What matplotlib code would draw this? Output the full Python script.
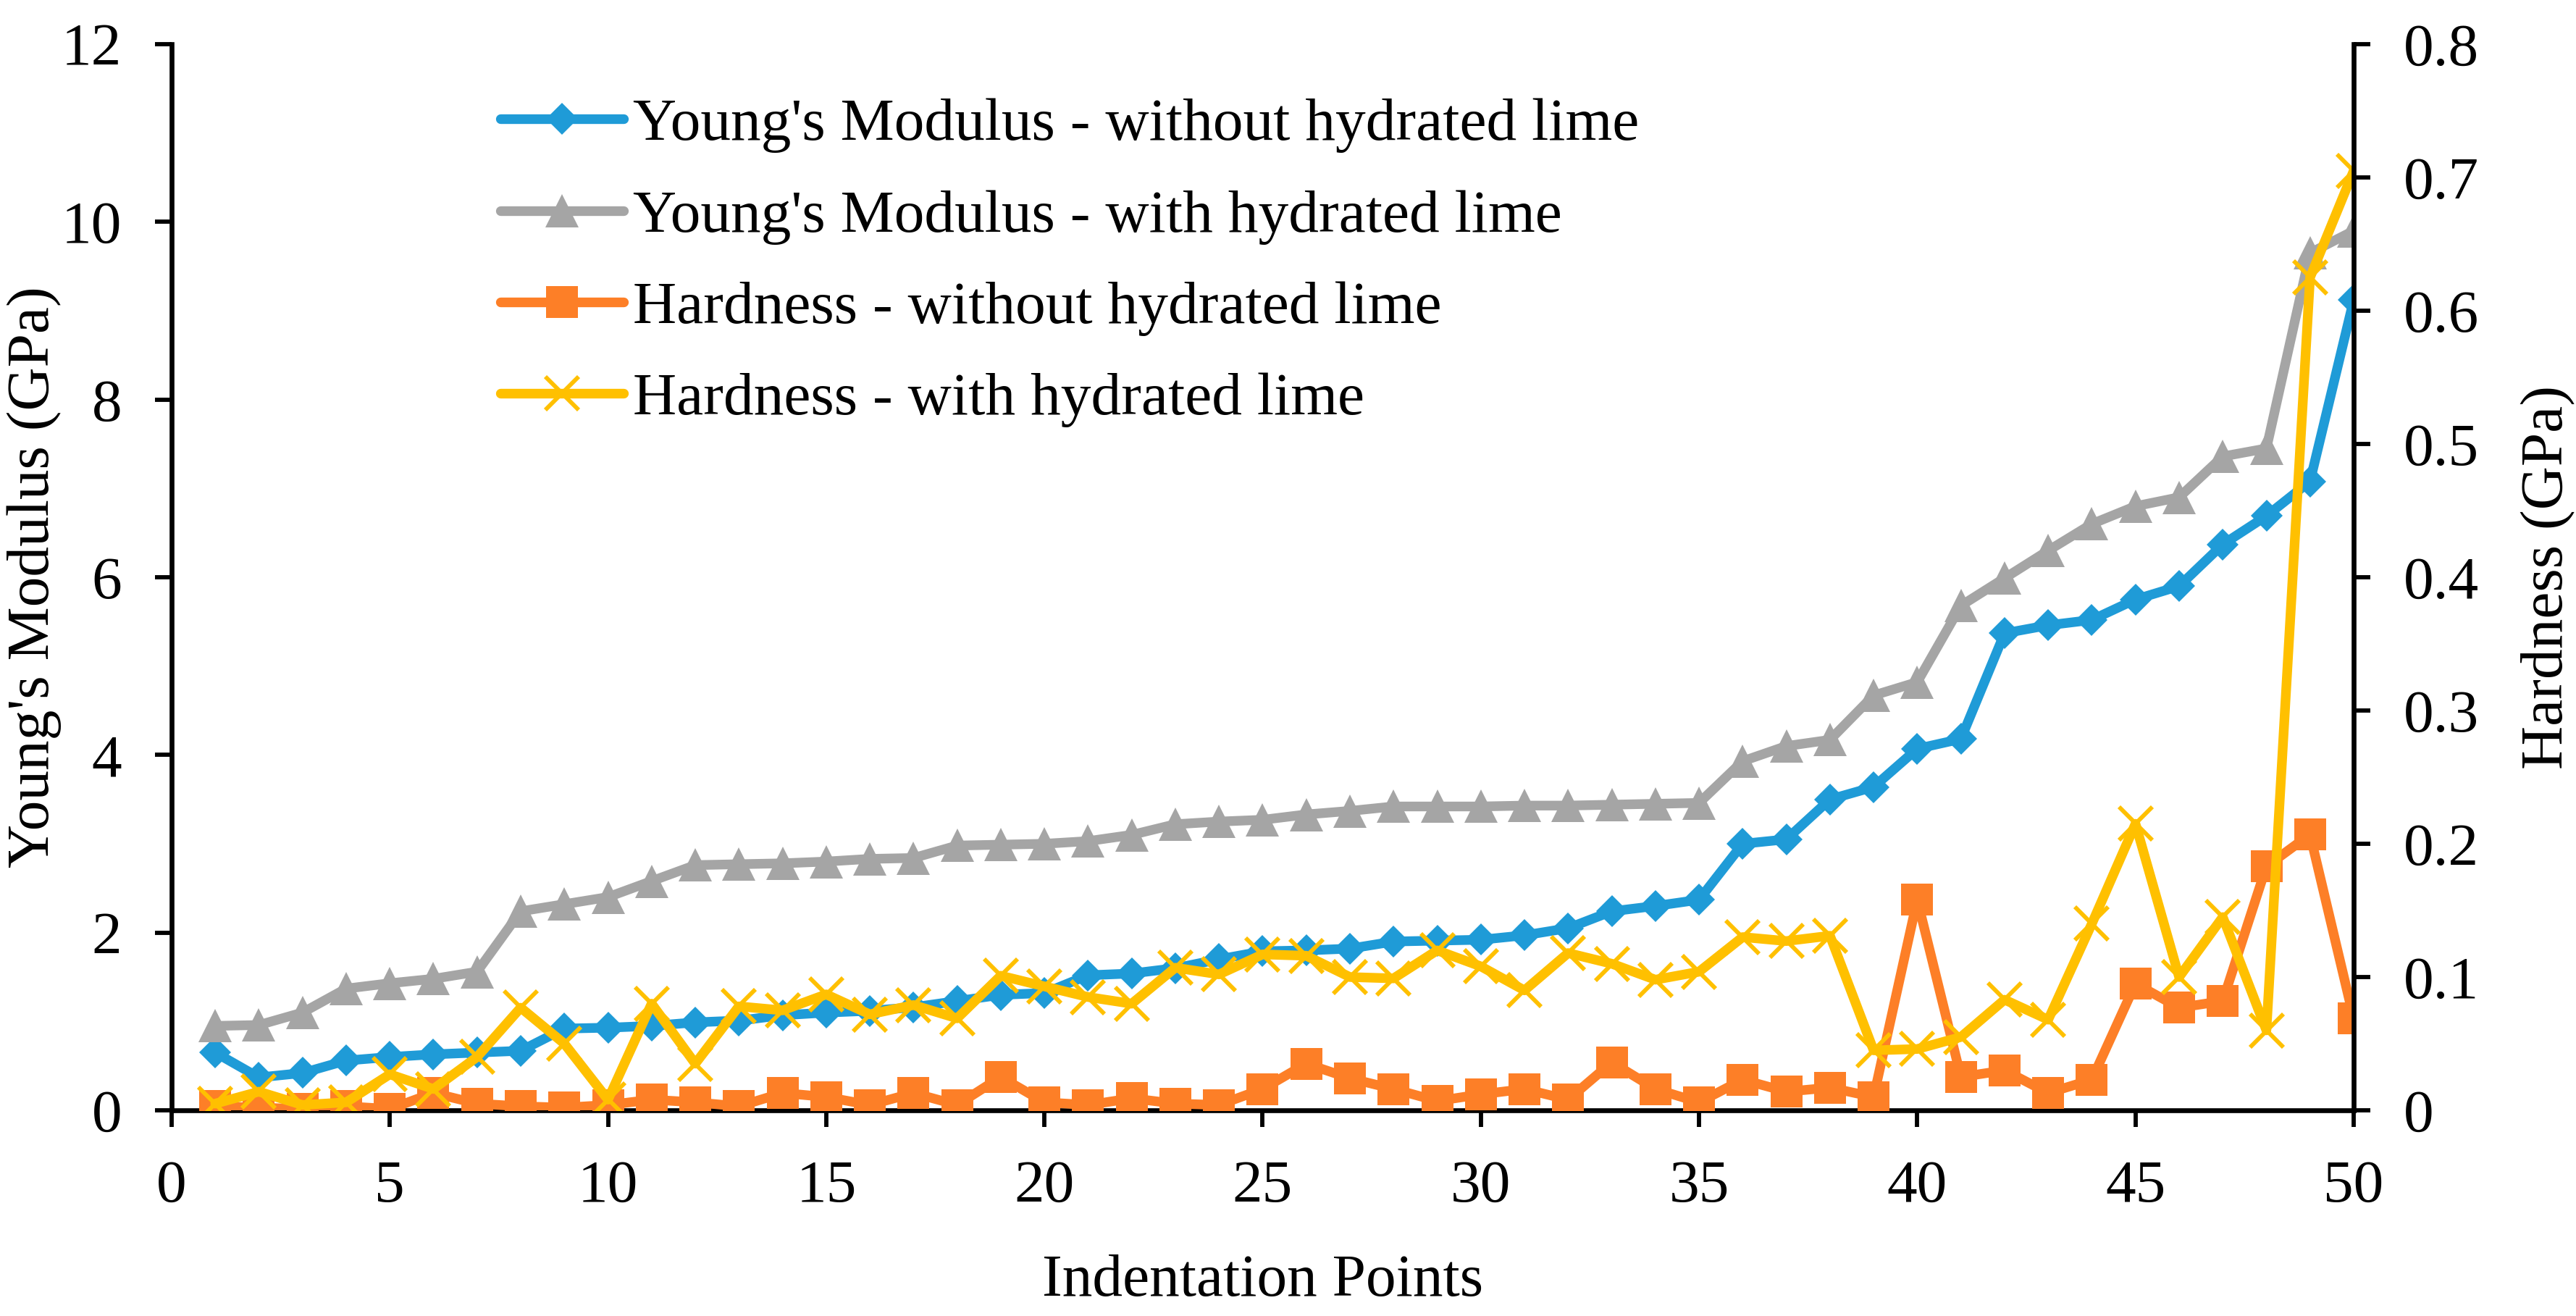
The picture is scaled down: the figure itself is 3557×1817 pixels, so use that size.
import matplotlib
matplotlib.use("Agg")
import matplotlib.pyplot as plt

plt.rcParams['font.family'] = ['Liberation Serif', 'DejaVu Serif']

points = list(range(1, 51))

ym_without = [0.65, 0.37, 0.42, 0.56, 0.60, 0.63, 0.65, 0.67, 0.92, 0.93,
              0.95, 0.99, 1.01, 1.07, 1.10, 1.12, 1.16, 1.23, 1.30, 1.32,
              1.52, 1.54, 1.60, 1.70, 1.79, 1.80, 1.82, 1.90, 1.91, 1.92,
              1.97, 2.05, 2.24, 2.30, 2.37, 3.00, 3.05, 3.50, 3.64, 4.07,
              4.18, 5.37, 5.46, 5.52, 5.75, 5.90, 6.37, 6.69, 7.08, 9.12]

ym_with = [0.95, 0.96, 1.10, 1.37, 1.43, 1.48, 1.56, 2.24, 2.32, 2.40,
           2.58, 2.76, 2.77, 2.78, 2.80, 2.83, 2.84, 2.98, 2.99, 3.00,
           3.03, 3.10, 3.22, 3.25, 3.27, 3.33, 3.37, 3.42, 3.42, 3.42,
           3.43, 3.43, 3.44, 3.45, 3.46, 3.93, 4.10, 4.17, 4.67, 4.82,
           5.68, 5.99, 6.30, 6.60, 6.80, 6.90, 7.36, 7.45, 9.65, 9.90]

hd_without = [0.003, 0.002, 0.001, 0.003, 0.001, 0.013, 0.005, 0.003, 0.002, 0.004,
              0.008, 0.006, 0.003, 0.013, 0.010, 0.004, 0.013, 0.004, 0.025, 0.006,
              0.004, 0.009, 0.005, 0.004, 0.016, 0.035, 0.024, 0.016, 0.007, 0.012,
              0.016, 0.008, 0.036, 0.016, 0.006, 0.023, 0.014, 0.017, 0.010, 0.158,
              0.025, 0.030, 0.013, 0.023, 0.095, 0.077, 0.082, 0.183, 0.207, 0.069]

hd_with = [0.005, 0.014, 0.004, 0.006, 0.027, 0.016, 0.040, 0.077, 0.050, 0.008,
           0.080, 0.035, 0.078, 0.075, 0.087, 0.072, 0.079, 0.069, 0.101, 0.093,
           0.085, 0.080, 0.107, 0.102, 0.117, 0.116, 0.100, 0.099, 0.120, 0.108,
           0.090, 0.118, 0.110, 0.098, 0.104, 0.130, 0.127, 0.131, 0.045, 0.046,
           0.055, 0.083, 0.068, 0.140, 0.215, 0.100, 0.145, 0.060, 0.625, 0.705]

labels = ["Young's Modulus - without hydrated lime",
          "Young's Modulus - with hydrated lime",
          "Hardness - without hydrated lime",
          "Hardness - with hydrated lime"]
colors = ['#1F9BD7', '#A5A5A5', '#FD7F27', '#FFC000']

FS = 20
fig = plt.figure(figsize=(3557/300, 1817/300), dpi=300)
ax = fig.add_axes([0.0666, 0.1563, 0.9137-0.0666, 0.9664-0.1563])
ax2 = ax.twinx()

lw = 3.2
common = dict(linewidth=lw, solid_joinstyle='round', solid_capstyle='round')
l1, = ax.plot(points, ym_without, color=colors[0], marker='D', markersize=7.6,
              markeredgewidth=0, label=labels[0], **common)
l2, = ax.plot(points, ym_with, color=colors[1], marker='^', markersize=11,
              markeredgewidth=0, label=labels[1], **common)
l3, = ax2.plot(points, hd_without, color=colors[2], marker='s', markersize=10.5,
               markeredgewidth=0, label=labels[2], **common)
l4, = ax2.plot(points, hd_with, color=colors[3], marker='x', markersize=11,
               markeredgewidth=1.4, markeredgecolor=colors[3], label=labels[3], **common)

ax.set_xlim(0, 50)
ax.set_ylim(0, 12)
ax2.set_ylim(0, 0.8)
ax.set_xticks(range(0, 51, 5))
ax.set_yticks(range(0, 13, 2))
ax2.set_yticks([i / 10 for i in range(0, 9)])
ax2.set_yticklabels(['0'] + [f'{i/10:.1f}' for i in range(1, 9)])

for a in (ax, ax2):
    a.spines['top'].set_visible(False)
    for s in a.spines.values():
        s.set_linewidth(1.6)
ax.spines['right'].set_visible(False)
ax2.spines['left'].set_visible(False)
ax2.spines['bottom'].set_visible(False)

ax.tick_params(axis='x', direction='out', length=5.5, width=1.4, labelsize=FS, pad=11)
ax.tick_params(axis='y', direction='out', length=5.5, width=1.4, labelsize=FS, pad=11)
ax2.tick_params(axis='y', direction='out', length=5.5, width=1.4, labelsize=FS, pad=11)

ax.set_xlabel('Indentation Points', fontsize=FS, labelpad=13)
ax.set_ylabel("Young's Modulus (GPa)", fontsize=FS, labelpad=0)
ax2.set_ylabel('Hardness (GPa)', fontsize=FS, labelpad=14, rotation=90)

fig.legend(handles=[l1, l2, l3, l4], loc='upper left',
           bbox_to_anchor=(691/3557, 1 - 135/1817), frameon=False,
           fontsize=FS, borderpad=0, borderaxespad=0, handlelength=2.04,
           handletextpad=0.16, labelspacing=0.6, numpoints=1)

fig.savefig('out.png', dpi=300)
